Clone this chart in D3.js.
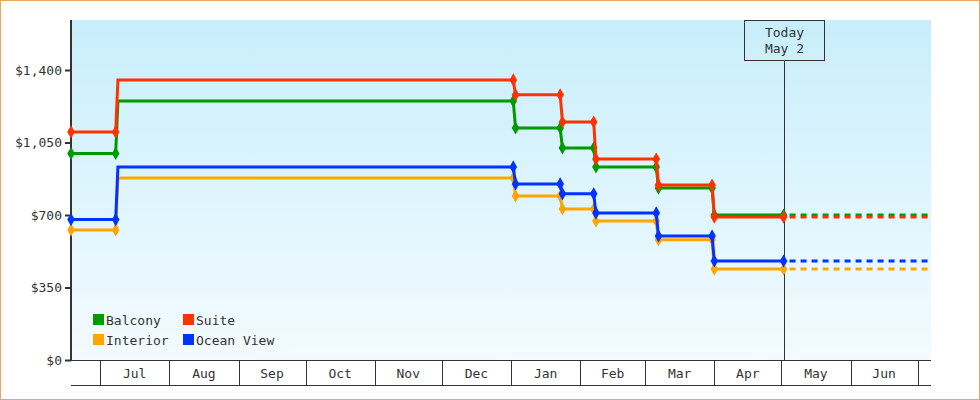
<!DOCTYPE html><html><head><script src="https://cdn.jsdelivr.net/npm/d3@7"></script>
<style>body{margin:0;background:#fff}text{font-family:"DejaVu Sans Mono",monospace;font-size:13px;fill:#333}</style></head><body>
<svg id="c" width="980" height="400"></svg>
<script>
const series = ["Balcony","Suite","Interior","Ocean View"];
const colors = ["#009900","#ff3300","#ffa500","#0033ff"];
const dates = ["2023-06-18","2023-07-08","2023-07-09","2024-01-02","2024-01-03","2024-01-23","2024-01-24","2024-02-07","2024-02-08","2024-03-06","2024-03-07","2024-03-31","2024-04-01","2024-05-02"];
const balcony = [997,997,1250,1250,1120,1120,1024,1024,932,932,830,830,700,700];
const suite =   [1101,1101,1352,1352,1280,1280,1149,1149,970,970,845,845,690,690];
const interior =[628,628,879,879,792,792,729,729,671,671,580,580,439,439];
const ocean =   [678,678,932,932,850,850,802,802,710,710,599,599,478,478];
const yTicks = [0,350,700,1050,1400];
const months = ["2023-07-01","2023-08-01","2023-09-01","2023-10-01","2023-11-01","2023-12-01","2024-01-01","2024-02-01","2024-03-01","2024-04-01","2024-05-01","2024-06-01","2024-07-01"];
const monthLabels = ["Jul","Aug","Sep","Oct","Nov","Dec","Jan","Feb","Mar","Apr","May","Jun"];
const today = "2024-05-02", todayLabel = ["Today","May 2"], endDate = "2024-07-07";

const P = d3.timeParse("%Y-%m-%d");
const svg = d3.select("#c");
const L=71,R=931,T=20,B=360;
const x = d3.scaleTime().domain([P(dates[0]),P(endDate)]).range([L,R]);
const y = d3.scaleLinear().domain([0,1400]).range([B,70]);
svg.append("rect").attr("x",0.5).attr("y",0.5).attr("width",979).attr("height",399).attr("fill","#fff").attr("stroke","#e8a860");
const g = svg.append("defs").append("linearGradient").attr("id","bg").attr("x1",0).attr("y1",0).attr("x2",0).attr("y2",1);
g.append("stop").attr("offset",0).attr("stop-color","#c8eefb");
g.append("stop").attr("offset",1).attr("stop-color","#f3fbff");
svg.append("rect").attr("x",L).attr("y",T).attr("width",R-L).attr("height",B-T).attr("fill","url(#bg)");
// y axis
const ya = svg.append("g").attr("transform",`translate(${L},0)`).call(d3.axisLeft(y).tickValues(yTicks).tickSize(6).tickFormat(d=>"$"+d3.format(",")(d)));
ya.select(".domain").remove();
ya.selectAll("line").attr("stroke","#333").attr("stroke-width",2);
ya.selectAll("text").style("font-size","13px").attr("fill","#333");
svg.append("line").attr("x1",L).attr("x2",L).attr("y1",T).attr("y2",B+1).attr("stroke","#333").attr("stroke-width",2);
// month cells
svg.append("line").attr("x1",L).attr("x2",R).attr("y1",B+0.5).attr("y2",B+0.5).attr("stroke","#333");
svg.append("line").attr("x1",L).attr("x2",R).attr("y1",385.5).attr("y2",385.5).attr("stroke","#333");
months.forEach(m=>{const px=Math.round(x(P(m)))+0.5;svg.append("line").attr("x1",px).attr("x2",px).attr("y1",B).attr("y2",385).attr("stroke","#333");});
monthLabels.forEach((l,i)=>{svg.append("text").attr("x",(x(P(months[i]))+x(P(months[i+1])))/2).attr("y",378).attr("text-anchor","middle").text(l);});
// today
const tx=Math.round(x(P(today)))+0.5;
svg.append("line").attr("x1",tx).attr("x2",tx).attr("y1",60).attr("y2",B).attr("stroke","#333");
svg.append("rect").attr("x",tx-40).attr("y",20.5).attr("width",80).attr("height",40).attr("fill","none").attr("stroke","#333");
todayLabel.forEach((t,i)=>svg.append("text").attr("x",tx).attr("y",37+i*16).attr("text-anchor","middle").text(t));
// series
const data=[balcony,suite,interior,ocean];
const line=d3.line().x(d=>x(d[0])).y(d=>y(d[1]));
[2,3,0,1].forEach(si=>{
  const pts=dates.map((d,i)=>[P(d),data[si][i]]);
  const c=colors[si];
  svg.append("path").attr("d",line(pts)).attr("fill","none").attr("stroke",c).attr("stroke-width",3);
  const last=pts[pts.length-1];
  svg.append("path").attr("d",line([last,[P(endDate),last[1]]])).attr("fill","none").attr("stroke",c).attr("stroke-width",3).attr("stroke-dasharray","6,5").attr("stroke-dashoffset",-6);
  const sym=d3.symbol(d3.symbolDiamond,50);
  pts.filter((p,i)=>i!==2).forEach(p=>svg.append("path").attr("d",sym()).attr("transform",`translate(${x(p[0])},${y(p[1])})`).attr("fill",c));
});
// legend
series.forEach((s,i)=>{
  const lx=93+(i%2)*90, ly=314+Math.floor(i/2)*20;
  svg.append("rect").attr("x",lx).attr("y",ly).attr("width",11).attr("height",11).attr("fill",colors[i]);
  svg.append("text").attr("x",lx+13).attr("y",ly+11).text(s);
});
</script></body></html>
